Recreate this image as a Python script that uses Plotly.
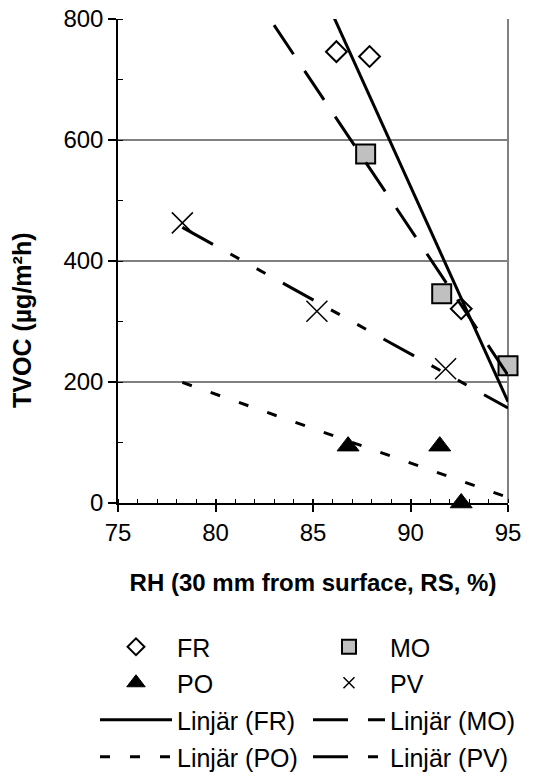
import numpy as np
import plotly.graph_objects as go

# ---- data ----
fr_x = [86.2, 87.9, 92.6]
fr_y = [746, 738, 321]
mo_x = [87.7, 91.6, 95.0]
mo_y = [577, 346, 227]
po_x = [86.8, 91.5, 92.6]
po_y = [94, 94, 0]
pv_x = [78.3, 85.2, 91.8]
pv_y = [463, 317, 222]

x_ticks = [75, 80, 85, 90, 95]
y_ticks = [0, 200, 400, 600, 800]

FONT = "Liberation Sans, Arial, sans-serif"
FS = 24

all_x = fr_x + mo_x + po_x + pv_x
x_span = np.array([min(all_x), max(all_x)])


def trend(xs, ys):
    k, m = np.polyfit(xs, ys, 1)
    return x_span, k * x_span + m


fig = go.Figure()

markers = [
    ("FR", fr_x, fr_y, dict(symbol="diamond-open", size=16, color="black",
                            line=dict(color="black", width=2)),
     dict(symbol="diamond-open", size=13, color="black", line=dict(color="black", width=2))),
    ("MO", mo_x, mo_y, dict(symbol="square", size=19, color="#C0C0C0",
                            line=dict(color="black", width=2)),
     dict(symbol="square", size=14, color="#C0C0C0", line=dict(color="black", width=2))),
    ("PO", po_x, po_y, dict(symbol="triangle-up", size=19, color="black",
                            line=dict(color="black", width=1)),
     dict(symbol="triangle-up", size=16, color="black", line=dict(color="black", width=1))),
    ("PV", pv_x, pv_y, dict(symbol="x-thin", size=21, color="black",
                            line=dict(color="black", width=1.5)),
     dict(symbol="x-thin", size=11, color="black", line=dict(color="black", width=1.5))),
]

legend_of = {"FR": "legend", "MO": "legend", "PO": "legend2", "PV": "legend2"}

# data markers (no legend) + legend proxies
for name, xs, ys, mk, lmk in markers:
    fig.add_trace(go.Scatter(x=xs, y=ys, mode="markers", marker=mk, name=name,
                             showlegend=False, cliponaxis=False))

for name, xs, ys, mk, lmk in markers:
    fig.add_trace(go.Scatter(x=[None], y=[None], mode="markers", marker=lmk,
                             name=name, legend=legend_of[name]))

lines = [
    ("Linjär (FR)", fr_x, fr_y, "solid", "legend3"),
    ("Linjär (MO)", mo_x, mo_y, "35px,20px", "legend3"),
    ("Linjär (PO)", po_x, po_y, "10px,20px", "legend4"),
    ("Linjär (PV)", pv_x, pv_y, "35px,20px,10px,20px,10px,20px", "legend4"),
]
for name, xs, ys, dash, lg in lines:
    tx, ty = trend(xs, ys)
    fig.add_trace(go.Scatter(x=tx, y=ty, mode="lines", name=name, legend=lg,
                             line=dict(color="black", width=3, dash=dash)))

# x-axis helper for the inner half of the crossing major ticks
fig.add_trace(go.Scatter(x=[None], y=[None], xaxis="x2", showlegend=False,
                         hoverinfo="skip"))

# plot area geometry
L, R, T, B = 118, 51, 19, 275
W, H = 559, 778
plot_h = H - T - B
plot_w = W - L - R


def py(pix):
    return (H - B - pix) / plot_h


def px(pix):
    return (pix - L) / plot_w


leg_common = dict(orientation="h", x=-0.059, xanchor="left", yanchor="middle",
                  itemwidth=72, entrywidth=126, entrywidthmode="pixels",
                  font=dict(family=FONT, size=25, color="black"),
                  bgcolor="rgba(0,0,0,0)", borderwidth=0, tracegroupgap=0)

fig.update_layout(
    width=W, height=H,
    margin=dict(l=L, r=R, t=T, b=B, autoexpand=False),
    paper_bgcolor="white", plot_bgcolor="white",
    font=dict(family=FONT, size=FS, color="black"),
    xaxis=dict(range=[75, 95], tickvals=x_ticks, ticks="outside", ticklen=7,
               tickwidth=1.5, tickcolor="black", showline=True, linecolor="black",
               linewidth=1.5, showgrid=False, zeroline=False,
               tickfont=dict(family=FONT, size=FS, color="black"),
               minor=dict(ticks="inside", ticklen=4, dtick=1, tick0=75,
                          tickcolor="black", tickwidth=1, showgrid=False),
               title=dict(text="<b>RH (30 mm from surface, RS, %)</b>",
                          font=dict(family=FONT, size=FS, color="black"),
                          standoff=30)),
    xaxis2=dict(range=[75, 95], overlaying="x", side="bottom", anchor="y",
                tickvals=x_ticks, ticks="inside", ticklen=4, tickwidth=1.5,
                tickcolor="black", showticklabels=False, showline=False,
                showgrid=False, zeroline=False),
    yaxis=dict(range=[0, 800], tickvals=y_ticks, ticks="outside", ticklen=8,
               tickwidth=1.5, tickcolor="black", showline=True, linecolor="black",
               linewidth=1.5, showgrid=True, gridcolor="#808080", gridwidth=1.5,
               zeroline=False,
               tickfont=dict(family=FONT, size=FS, color="black"),
               minor=dict(ticks="inside", ticklen=5, dtick=100, tick0=0,
                          tickcolor="black", tickwidth=1, showgrid=False)),
    annotations=[dict(text="<b>TVOC (µg/m²h)</b>", textangle=-90,
                      xref="paper", yref="paper", x=px(22), y=py(320),
                      xanchor="center", yanchor="middle", showarrow=False,
                      font=dict(family=FONT, size=25, color="black"))],
    legend=dict(leg_common, y=py(647)),
    legend2=dict(leg_common, y=py(683)),
    legend3=dict(leg_common, y=py(720)),
    legend4=dict(leg_common, y=py(757)),
    shapes=[dict(type="line", xref="paper", yref="paper", x0=1, x1=1, y0=0, y1=1,
                 line=dict(color="#808080", width=2), layer="below")],
    showlegend=True,
)

fig.write_html("out.html")
